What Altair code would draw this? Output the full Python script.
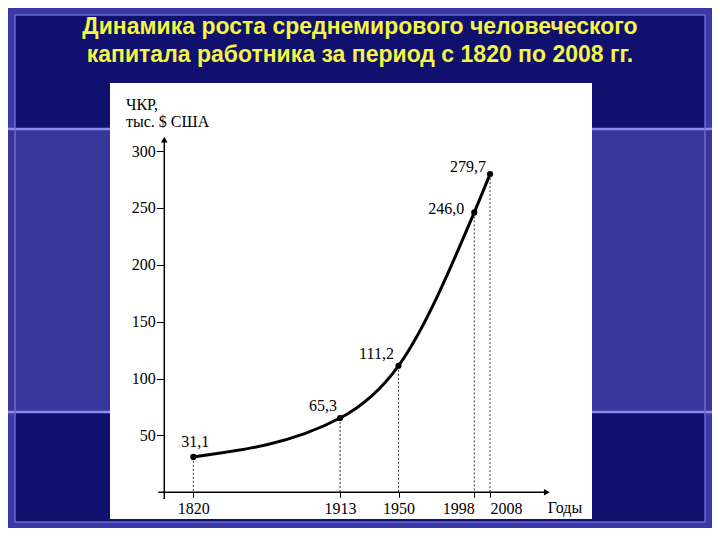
import altair as alt
import pandas as pd

# ---- data ----
years = [1820, 1913, 1950, 1998, 2008]
values = [31.1, 65.3, 111.2, 246.0, 279.7]
labels = ["31,1", "65,3", "111,2", "246,0", "279,7"]
y_ticks = [50, 100, 150, 200, 250, 300]
title_lines = ["Динамика роста среднемирового человеческого",
               "капитала работника за период с 1820 по 2008 гг."]
y_title = ["ЧКР,", "тыс. $ США"]
x_title = "Годы"

# axis geometry (data units)
y_axis_year = 1801.6
y_axis_span = [-6, 310]
x_axis_span = [1797.8, 2044]

df = pd.DataFrame({"year": years, "value": values, "label": labels, "zero": [0] * len(years)})
one = pd.DataFrame({"k": [0]})

SERIF = "Liberation Serif"
FS = 16

xscale = alt.Scale(domain=[1767.2, 2072.6], nice=False, zero=False)
yscale = alt.Scale(domain=[-23.5, 359.8], nice=False, zero=False)

xaxis = alt.Axis(values=years, format="d", offset=-26.7, domain=False, grid=False,
                 ticks=True, tickSize=5, tickColor="black", tickWidth=1,
                 labelFont=SERIF, labelFontSize=FS, labelColor="black",
                 labelPadding=3, title=None, labelFlush=False, labelOverlap=False,
                 labelAlign=alt.ExprRef(expr="datum.value == 1998 ? 'right' : (datum.value == 2008 ? 'left' : 'center')"),
                 zindex=2)
yaxis = alt.Axis(values=y_ticks, format="d", offset=-54.3, domain=False, grid=False,
                 ticks=True, tickSize=8, tickColor="black", tickWidth=1,
                 labelFont=SERIF, labelFontSize=FS, labelColor="black",
                 labelPadding=1, title=None, labelFlush=False, labelOverlap=False,
                 zindex=2)

X = alt.X("year:Q", scale=xscale, axis=xaxis)
Y = alt.Y("value:Q", scale=yscale, axis=yaxis)

W, H = 482, 436

# ---- slide decoration (pixel positions relative to the white panel) ----
base1 = alt.Chart(one)
inner = base1.mark_rect(color="#10106e").encode(
    x=alt.value(-95), x2=alt.value(595), y=alt.value(-68), y2=alt.value(439))
band = base1.mark_rect(color="#36369c").encode(
    x=alt.value(-102), x2=alt.value(602), y=alt.value(47), y2=alt.value(329))
line1 = base1.mark_rule(color="#8c8cec", strokeWidth=2.5).encode(
    x=alt.value(-102), x2=alt.value(602), y=alt.value(46))
line2 = base1.mark_rule(color="#8c8cec", strokeWidth=2.5).encode(
    x=alt.value(-102), x2=alt.value(602), y=alt.value(329))
frame = base1.mark_rect(fill=None, stroke="#6a6ad0", strokeWidth=1.5).encode(
    x=alt.value(-95), x2=alt.value(595), y=alt.value(-68), y2=alt.value(439))
panel = base1.mark_rect(color="white").encode(
    x=alt.value(0), x2=alt.value(W), y=alt.value(0), y2=alt.value(H))

title1 = base1.mark_text(font="Liberation Sans", fontSize=23, fontWeight="bold",
                         color="#f5f545", align="center", baseline="middle").encode(
    x=alt.value(250), y=alt.value(-56), text=alt.value(title_lines[0]))
title2 = base1.mark_text(font="Liberation Sans", fontSize=23, fontWeight="bold",
                         color="#f5f545", align="center", baseline="middle").encode(
    x=alt.value(250), y=alt.value(-28), text=alt.value(title_lines[1]))

# ---- chart ----
base = alt.Chart(df)
dashes = base.mark_rule(color="#333333", strokeWidth=1, strokeDash=[2, 2]).encode(
    x=X, y=Y, y2=alt.Y2("zero:Q"))

axes_df = pd.DataFrame({
    "year": [y_axis_year, x_axis_span[0]],
    "value": [y_axis_span[0], 0],
    "year2": [y_axis_year, x_axis_span[1]],
    "value2": [y_axis_span[1], 0],
})
axis_lines = alt.Chart(axes_df).mark_rule(color="black", strokeWidth=1.5).encode(
    x=X, y=Y, x2="year2:Q", y2="value2:Q")
arrows_df = pd.DataFrame({
    "year": [y_axis_year, x_axis_span[1]],
    "value": [y_axis_span[1], 0],
    "shape": ["triangle-up", "triangle-right"],
})
arrows = alt.Chart(arrows_df).mark_point(filled=True, color="black", size=45, opacity=1).encode(
    x=X, y=Y, shape=alt.Shape("shape:N", scale=None, legend=None))

curve = base.mark_line(color="black", strokeWidth=3, interpolate="monotone").encode(x=X, y=Y)
dots = base.mark_circle(color="black", size=38, opacity=1).encode(x=X, y=Y)

offsets = {1820: (2, -15), 1913: (-17, -12), 1950: (-22, -12), 1998: (-28, -3), 2008: (-22, -7)}
label_layers = []
for yr in years:
    dx, dy = offsets[yr]
    label_layers.append(
        base.transform_filter(alt.datum.year == yr).mark_text(
            font=SERIF, fontSize=FS, color="black", align="center", baseline="middle",
            dx=dx, dy=dy).encode(x=X, y=Y, text="label:N"))

ytitle1 = base1.mark_text(font=SERIF, fontSize=FS, color="black", align="left", baseline="middle").encode(
    x=alt.value(16), y=alt.value(22), text=alt.value(y_title[0]))
ytitle2 = base1.mark_text(font=SERIF, fontSize=FS, color="black", align="left", baseline="middle").encode(
    x=alt.value(16), y=alt.value(39), text=alt.value(y_title[1]))
xtitle = base1.mark_text(font=SERIF, fontSize=FS, color="black", align="center", baseline="middle").encode(
    x=alt.value(455), y=alt.value(425), text=alt.value(x_title))

chart = alt.layer(
    inner, band, line1, line2, frame, panel, title1, title2,
    dashes, axis_lines, arrows, curve, dots, *label_layers,
    ytitle1, ytitle2, xtitle,
).properties(
    width=W, height=H,
    autosize=alt.AutoSizeParams(type="none"),
    padding={"left": 102, "top": 75, "right": 120, "bottom": 9},
).configure(background="#3a3aa6").configure_view(stroke=None)

chart.save("out.html", embed_options={"renderer": "svg", "actions": False})
